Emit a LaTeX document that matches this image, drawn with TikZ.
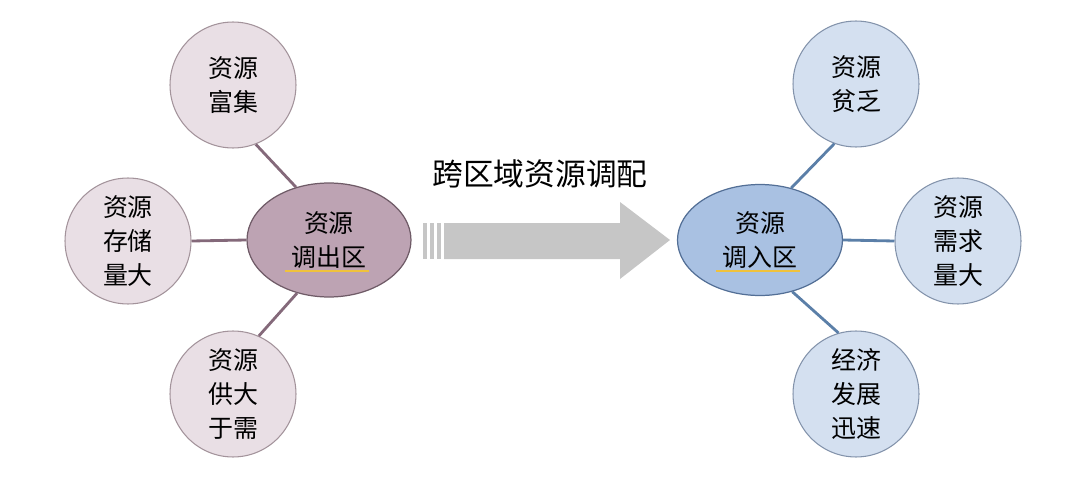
\documentclass[tikz,border=0pt]{standalone}
\usepackage{fontspec}
\setmainfont{Noto Sans CJK SC}
\usepackage{xcolor}
\usepackage{tikz}
\usetikzlibrary{shapes}
\usetikzlibrary{calc}
\definecolor{out_fill}{HTML}{E9DFE5}
\definecolor{out_edge}{HTML}{A3939B}
\definecolor{out_core}{HTML}{BDA3B3}
\definecolor{out_rim}{HTML}{6F5B67}
\definecolor{out_link}{HTML}{84697A}
\definecolor{in_fill}{HTML}{D4E0F0}
\definecolor{in_edge}{HTML}{8393AB}
\definecolor{in_core}{HTML}{A9C1E2}
\definecolor{in_rim}{HTML}{536F96}
\definecolor{in_link}{HTML}{5B7FA8}
\definecolor{arrow_gray}{HTML}{C6C6C6}
\definecolor{mark_yellow}{HTML}{F0C23C}
\tikzset{ out_var/.style = {circle, draw=out_edge, fill=out_fill, line width=0.6pt, minimum size=2.52cm, inner sep=0pt, align=center, font=\fontsize{14.2}{19.3}\selectfont} }
\tikzset{ in_var/.style = {circle, draw=in_edge, fill=in_fill, line width=0.6pt, minimum size=2.52cm, inner sep=0pt, align=center, font=\fontsize{14.2}{19.3}\selectfont} }
\tikzset{ out_area/.style = {ellipse, draw=out_rim, fill=out_core, line width=0.7pt, minimum width=3.28cm, minimum height=2.28cm, inner sep=0pt, align=center, font=\fontsize{14.2}{19.8}\selectfont} }
\tikzset{ in_area/.style = {ellipse, draw=in_rim, fill=in_core, line width=0.7pt, minimum width=3.3cm, minimum height=2.22cm, inner sep=0pt, align=center, font=\fontsize{14.2}{19.8}\selectfont} }
\tikzset{ out_edge_line/.style = {draw=out_link, line width=1.6pt} }
\tikzset{ in_edge_line/.style = {draw=in_link, line width=1.6pt} }
\tikzset{ mark_line/.style = {draw=mark_yellow, line width=1.4pt} }

\begin{document}
\begin{tikzpicture}[x=0.02cm, y=-0.02cm]
        \useasboundingbox (0,0) rectangle (1080,480);
        \node[out_var] (o1) at (233,85) {资源\\富集};
        \node[out_var] (o2) at (128,241) {资源\\存储\\量大};
        \node[out_var] (o3) at (233,394) {资源\\供大\\于需};
        \node[out_area] (o) at (329,240) {资源\\调出区};
        \node[in_var] (i1) at (856,84) {资源\\贫乏};
        \node[in_var] (i2) at (958,241) {资源\\需求\\量大};
        \node[in_var] (i3) at (856,394) {经济\\发展\\迅速};
        \node[in_area] (i) at (760,240) {资源\\调入区};
        \node[font=\fontsize{17.5}{20}\selectfont] (t) at (540,174) {跨区域资源调配};
        \draw[out_edge_line] (o1.-69) -- (o.122);
        \draw[out_edge_line] (o2.east) -- (o.west);
        \draw[out_edge_line] (o3.66) -- (o.-121);
        \draw[in_edge_line] (i1.-110) -- (i.59);
        \draw[in_edge_line] (i2.west) -- (i.east);
        \draw[in_edge_line] (i3.106) -- (i.-58);
        \draw[mark_line] ($(o)+(-44,31)$) -- ($(o)+(40,31)$);
        \draw[mark_line] ($(i)+(-44,31)$) -- ($(i)+(40,31)$);
        \fill[arrow_gray] (444,223) -- (620,223) -- (620,202) -- (670,240) -- (620,279) -- (620,259) -- (444,259) -- cycle;
        \fill[arrow_gray] (423,223) rectangle (427,259);
        \fill[arrow_gray] (430,223) rectangle (434,259);
        \fill[arrow_gray] (437,223) rectangle (441,259);
    \end{tikzpicture}
\end{document}
